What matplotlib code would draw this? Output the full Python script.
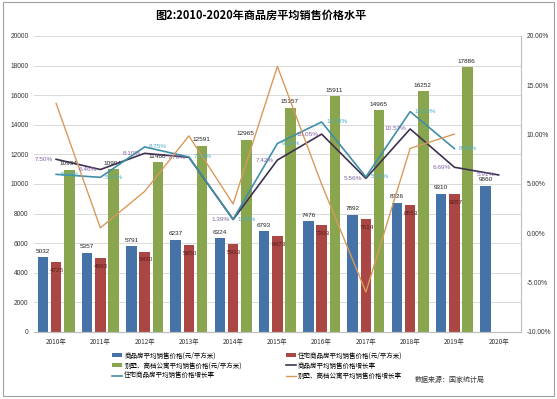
import numpy as np
import matplotlib.pyplot as plt
from matplotlib.patches import Rectangle

plt.rcParams['font.family'] = ['Noto Sans CJK SC', 'DejaVu Sans']

years = ['2010年', '2011年', '2012年', '2013年', '2014年', '2015年',
         '2016年', '2017年', '2018年', '2019年', '2020年']
price_all = [5032, 5357, 5791, 6237, 6324, 6793, 7476, 7892, 8726, 9310, 9860]
price_res = [4725, 4993, 5430, 5850, 5933, 6473, 7203, 7614, 8553, 9287, np.nan]
price_villa = [10934, 10994, 11460, 12591, 12965, 15157, 15911, 14965, 16252, 17886, np.nan]
growth_all = [7.50, 6.46, 8.10, 7.70, 1.39, 7.42, 10.05, 5.56, 10.57, 6.69, 5.91]
growth_res = [5.97, 5.67, 8.75, 7.73, 1.42, 9.10, 11.28, 5.71, 12.33, 8.58, np.nan]
growth_villa = [13.16, 0.55, 4.24, 9.87, 2.97, 16.91, 4.97, -5.95, 8.60, 10.05, np.nan]

names = ['商品房平均销售价格(元/平方米)', '住宅商品房平均销售价格(元/平方米)',
         '别墅、高档公寓平均销售价格(元/平方米)', '商品房平均销售价格增长率',
         '住宅商品房平均销售价格增长率', '别墅、高档公寓平均销售价格增长率']

c_blue, c_red, c_green = '#4572a7', '#aa4643', '#89a54e'
c_purple, c_teal, c_orange = '#3f3151', '#3f8fa8', '#d9995b'

fig = plt.figure(figsize=(5.57, 3.99), dpi=100)
ax = fig.add_axes([0.061, 0.168, 0.874, 0.742])
ax2 = ax.twinx()
ax.set_zorder(1)
ax2.set_zorder(2)
ax.patch.set_visible(False)

x = np.arange(len(years))
w = 0.24
b1 = ax.bar(x - 0.3, price_all, w, color=c_blue, label=names[0])
b2 = ax.bar(x, price_res, w, color=c_red, label=names[1])
b3 = ax.bar(x + 0.3, price_villa, w, color=c_green, label=names[2])

for i in range(len(x)):
    ax.text(x[i] - 0.3, price_all[i] + 250, str(price_all[i]), ha='center', va='bottom',
            fontsize=4.6, family='Liberation Sans', color='#222222')
    if not np.isnan(price_res[i]):
        ax.text(x[i] + 0.02, price_res[i] - 550, str(price_res[i]), ha='center', va='center',
                fontsize=4.6, family='Liberation Sans', color='#5a1e1e')
    if not np.isnan(price_villa[i]):
        ax.text(x[i] + 0.28, price_villa[i] + 250, str(int(price_villa[i])), ha='center', va='bottom',
                fontsize=4.6, family='Liberation Sans', color='#222222')

l1, = ax2.plot(x, growth_all, color=c_purple, lw=1.2, label=names[3])
l2, = ax2.plot(x, growth_res, color=c_teal, lw=1.2, label=names[4])
l3, = ax2.plot(x, growth_villa, color=c_orange, lw=1.0, label=names[5])

for i in range(len(x)):
    ax2.text(x[i] - 0.08, growth_all[i], '%.2f%%' % growth_all[i], ha='right', va='center',
             fontsize=4.6, family='Liberation Sans', color='#8064a2')
    if not np.isnan(growth_res[i]):
        ax2.text(x[i] + 0.1, growth_res[i], '%.2f%%' % growth_res[i], ha='left', va='center',
                 fontsize=4.6, family='Liberation Sans', color='#4bacc6')

ax.set_xlim(-0.5, 10.5)
ax.set_ylim(0, 20000)
ax.set_yticks(np.arange(0, 20001, 2000))
ax2.set_ylim(-10, 20)
ax2.set_yticks(np.arange(-10, 20.1, 5))
ax2.set_yticklabels(['%.2f%%' % v for v in np.arange(-10, 20.1, 5)])
ax.set_xticks(x)
ax.set_xticklabels(years)
ax.grid(axis='y', color='#d9d9d9', lw=0.7)
ax.set_axisbelow(True)

for a in (ax, ax2):
    for s in ('top', 'left'):
        a.spines[s].set_visible(False)
    a.spines['right'].set_color('#bfbfbf')
    a.spines['bottom'].set_color('#bfbfbf')
    a.tick_params(length=0, labelsize=4.8, colors='#333333', pad=4)
ax.spines['right'].set_visible(False)
for lab in ax.get_yticklabels() + ax2.get_yticklabels():
    lab.set_family('Liberation Sans')
for lab in ax.get_xticklabels():
    lab.set_fontsize(4.6)

fig.text(0.468, 0.962, '图2:2010-2020年商品房平均销售价格水平', ha='center', va='center',
         fontsize=8, fontweight='bold')

handles = [b1, b3, l2, b2, l1, l3]
labels = [names[0], names[2], names[4], names[1], names[3], names[5]]
fig.legend(handles, labels, ncol=2, loc='upper left', bbox_to_anchor=(0.195, 0.128),
           frameon=False, fontsize=4.7, handlelength=1.6, handleheight=0.6,
           handletextpad=0.3, columnspacing=6.7, labelspacing=0.35, borderpad=0)

fig.text(0.745, 0.048, '数据来源：国家统计局', fontsize=5, color='#333333', va='center')

fig.patches.append(Rectangle((0.006, 0.008), 0.988, 0.986, transform=fig.transFigure,
                             fill=False, edgecolor='#a0a0a0', lw=0.8))

fig.savefig('out.png', dpi=100)
